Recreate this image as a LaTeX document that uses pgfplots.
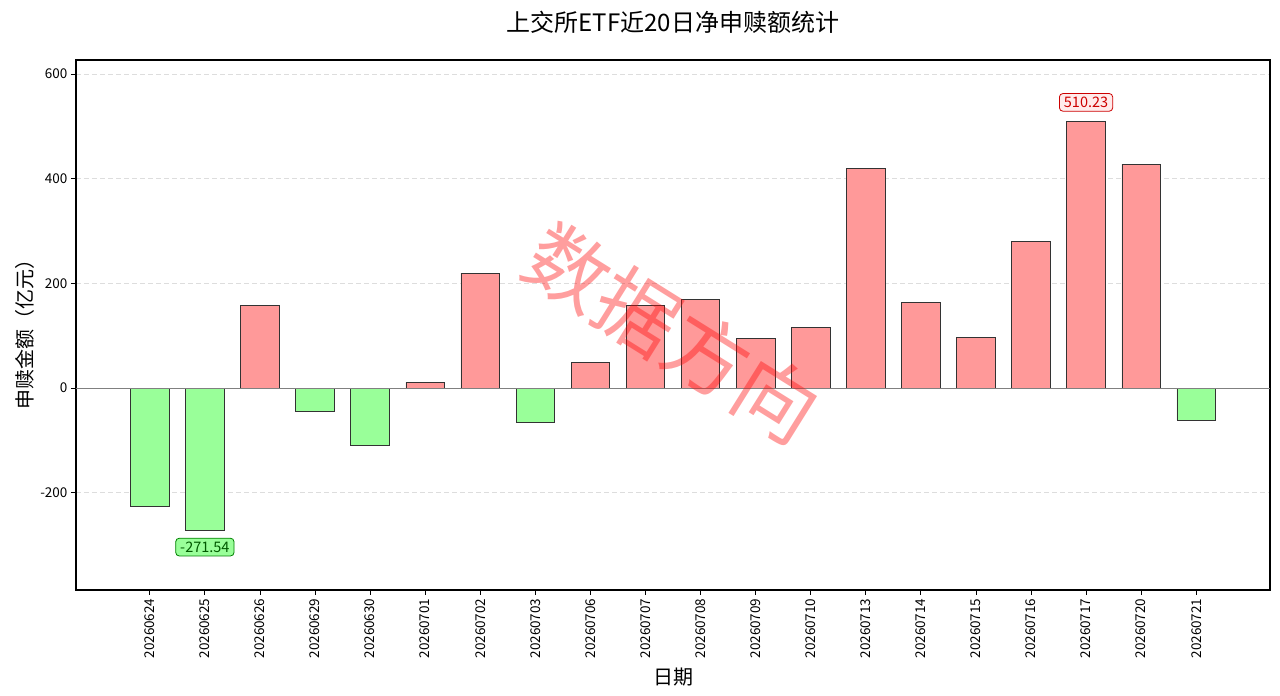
\documentclass[border=0pt]{standalone}
\usepackage{pgfplots}
\pgfplotsset{compat=1.18}
\usepackage{fontspec}
\setmainfont{Noto Sans CJK SC}
\definecolor{barred}{HTML}{FF9999}
\definecolor{bargreen}{HTML}{99FF99}
\definecolor{gridgray}{HTML}{DDDDDD}
\begin{document}
\begin{tikzpicture}[x=1pt,y=1pt]
\path[use as bounding box] (0,0) rectangle (1280,696);
\begin{axis}[
  at={(76pt,106pt)}, anchor=south west,
  width=1194pt, height=530pt, scale only axis,
  xmin=-1.34, xmax=20.34, ymin=-386, ymax=627,
  xtick={0,...,19},
  xticklabels={20260624,20260625,20260626,20260629,20260630,20260701,20260702,20260703,20260706,20260707,20260708,20260709,20260710,20260713,20260714,20260715,20260716,20260717,20260720,20260721},
  x tick label style={rotate=90, anchor=east, font=\fontsize{13.5}{14}\selectfont},
  ytick={-200,0,200,400,600},
  y tick label style={font=\fontsize{13.5}{14}\selectfont},
  /pgf/number format/assume math mode=true,
  tick align=outside, major tick length=5pt,
  tick style={black, line width=0.8pt},
  axis line style={black, line width=1.1pt},
  ymajorgrids, grid style={gridgray, dashed, line width=0.8pt, dash pattern=on 5pt off 3pt},
  xtick pos=bottom, ytick pos=left,
  ybar, bar width=0.7, bar shift=0pt,
  clip=false,
]
\addplot[fill=barred, draw=black!80, line width=0.7pt] coordinates {
 (2,158.6) (5,11.5) (6,219.8) (8,49.7) (9,158.6) (10,170) (11,95.5) (12,116.6) (13,420) (14,164) (15,97.5) (16,281) (17,510.23) (18,428)
};
\addplot[fill=bargreen, draw=black!80, line width=0.7pt] coordinates {
 (0,-227) (1,-271.54) (3,-44) (4,-109) (7,-65) (19,-61)
};
\draw[gray, line width=0.8pt] (axis cs:-1.34,0) -- (axis cs:20.34,0);
\node[draw=red!80!black, fill=red!8, rounded corners=3.5pt, text=red!80!black, inner xsep=4.5pt, inner ysep=3.5pt, line width=0.8pt, font=\fontsize{14.5}{15}\selectfont] at (axis cs:17,546) {510.23};
\node[draw=green!50!black, fill=bargreen, rounded corners=3.5pt, text=green!35!black, inner xsep=4.5pt, inner ysep=3.5pt, line width=0.8pt, font=\fontsize{14.5}{15}\selectfont] at (axis cs:1,-304) {-271.54};
\node[rotate=-32, text=red, opacity=0.38, font=\fontsize{82}{82}\selectfont] at (axis cs:9.5,105) {数据方向};
\end{axis}
\node[font=\fontsize{24}{25}\selectfont] at (673,674) {上交所ETF近20日净申赎额统计};
\node[font=\fontsize{20}{21}\selectfont] at (673,19) {日期};
\node[rotate=90, font=\fontsize{20}{21}\selectfont] at (25,366) {申赎金额（亿元）};
\end{tikzpicture}
\end{document}
